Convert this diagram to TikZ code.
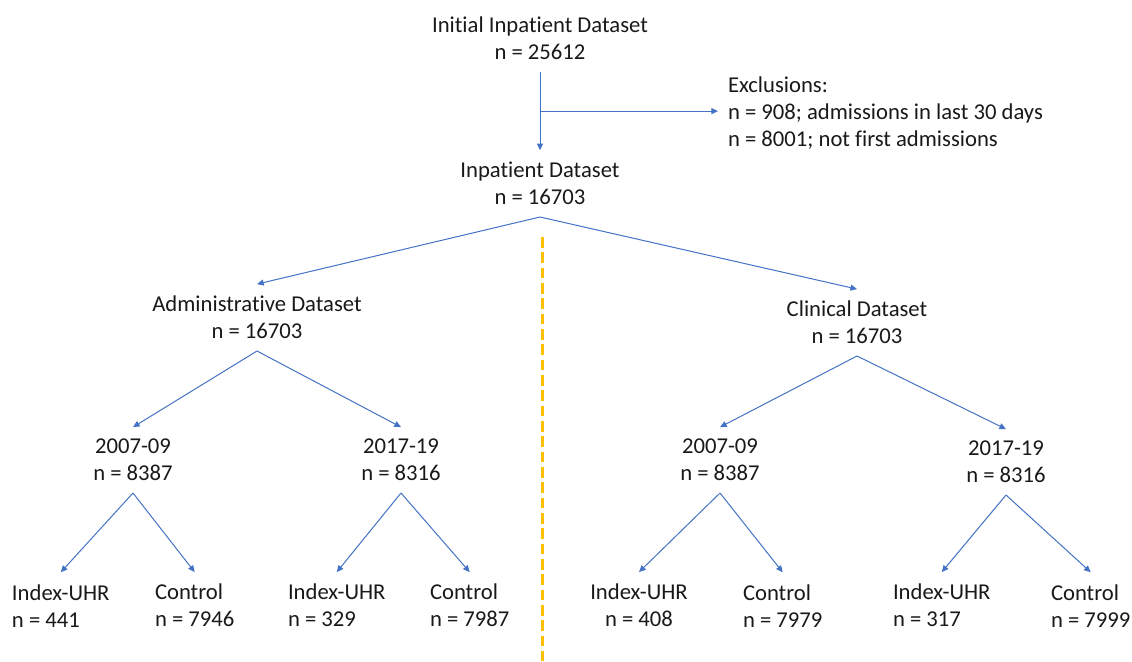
\documentclass[tikz,border=0pt]{standalone}
\usepackage{fontspec}
\setmainfont{Carlito}[Ligatures=NoCommon]
\usepackage{tikz}
\usetikzlibrary{arrows.meta,calc}
\definecolor{FlowBlue}{RGB}{68,114,196}
\definecolor{SplitGold}{RGB}{255,192,0}
\definecolor{InkGray}{RGB}{25,25,25}
\tikzset{
  lbl/.style     ={anchor=south, align=center, inner sep=0pt, outer xsep=0pt, outer ysep=9pt,
                   text=InkGray, font=\fontsize{17}{20.25}\selectfont},
  lblleft/.style ={lbl, anchor=south west, align=left},
  arr/.style     ={-{Triangle[length=5pt,width=4.5pt]}, draw=FlowBlue, line width=.75pt},
  divider/.style ={draw=SplitGold, line width=2.25pt, dash pattern=on 8pt off 3.5pt},
}

\begin{document}
\begin{tikzpicture}[x=0.75pt,y=-0.75pt]
  \useasboundingbox (0,0) rectangle (1132,661);

  % top of the flow
  \node[lbl] (init) at (540,72)  {Initial Inpatient Dataset\\n = 25612};
  \node[lbl] (inp)  at (540,217) {Inpatient Dataset\\n = 16703};
  \node[lblleft,outer xsep=7.5pt,outer ysep=0pt] (excl) at (718,149)
    {Exclusions:\\n = 908; admissions in last 30 days\\n = 8001; not first admissions};

  % the two datasets
  \node[lbl] (admin) at (257,351) {Administrative Dataset\\n = 16703};
  \node[lbl] (clin)  at (857,356) {Clinical Dataset\\n = 16703};

  % periods
  \node[lbl] (admin07) at (133,493)  {2007-09\\n = 8387};
  \node[lbl] (admin17) at (401,493)  {2017-19\\n = 8316};
  \node[lbl] (clin07)  at (720,493)  {2007-09\\n = 8387};
  \node[lbl] (clin17)  at (1006,495) {2017-19\\n = 8316};

  % index and control groups
  \node[lblleft] (aidx07) at (12,639)   {Index-UHR\\n = 441};
  \node[lblleft] (actl07) at (155,639)  {Control\\n = 7946};
  \node[lblleft] (aidx17) at (288,639)  {Index-UHR\\n = 329};
  \node[lblleft] (actl17) at (430,639)  {Control\\n = 7987};
  \node[lbl]     (cidx07) at (639,639)  {Index-UHR\\n = 408};
  \node[lblleft] (cctl07) at (743,639)  {Control\\n = 7979};
  \node[lblleft] (cidx17) at (893,639)  {Index-UHR\\n = 317};
  \node[lblleft] (cctl17) at (1051,639) {Control\\n = 7999};

  \draw[arr] (init.south) -- (inp.north);
  \coordinate (cut) at ($(init.south)!.5!(inp.north)$);
  \draw[arr] (cut) -- (cut -| excl.west);

  \foreach \a/\b in {inp/admin,inp/clin,admin/admin07,admin/admin17,clin/clin07,clin/clin17,
                     admin07/aidx07,admin07/actl07,admin17/aidx17,admin17/actl17,
                     clin07/cidx07,clin07/cctl07,clin17/cidx17,clin17/cctl17}{\draw[arr] (\a.south) -- (\b.north);}

  \draw[divider] (542,237) -- (542,661);
\end{tikzpicture}
\end{document}
